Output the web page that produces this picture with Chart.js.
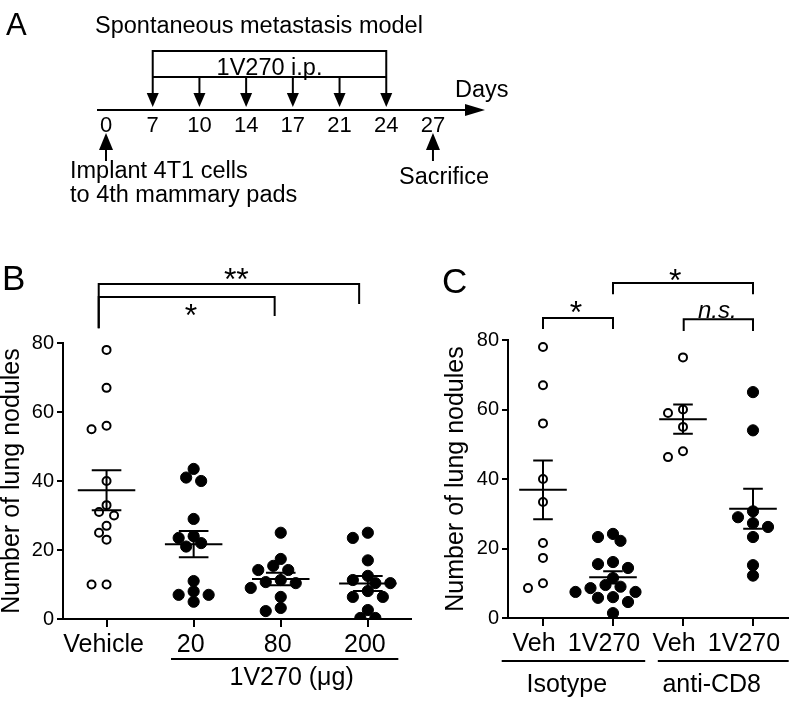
<!DOCTYPE html>
<html>
<head>
<meta charset="utf-8">
<script src="https://cdn.jsdelivr.net/npm/chart.js@4.4.0/dist/chart.umd.min.js"></script>
<style>
  body { margin: 0; background: #fff; width: 796px; height: 702px; position: relative; overflow: hidden; }
  canvas { position: absolute; }
</style>
</head>
<body>
<canvas id="chartA" width="796" height="230" style="left:0;top:0"></canvas>
<canvas id="chartB" width="418" height="472" style="left:0;top:230px"></canvas>
<canvas id="chartC" width="376" height="472" style="left:420px;top:230px"></canvas>
<script>
// panel A: schedule
var dayLabels = ['0', '7', '10', '14', '17', '21', '24', '27'];
var injectionDays = ['7', '10', '14', '17', '21', '24'];

// panel B: dose response
var doseLabels = ['Vehicle', '20', '80', '200'];
var vehicleB = [78, 67, 56, 55, 40, 33, 31, 30, 27, 25, 23, 10, 10];
var dose20 = [43.5, 41, 40, 29, 24, 23.5, 22, 21, 11, 8, 7, 7, 5];
var dose80 = [25, 17.4, 15.4, 14.2, 14.2, 11.3, 10.7, 10.4, 9, 6.4, 3.2, 2.3];
var dose200 = [25, 23.5, 17, 12.5, 11.3, 10.4, 10.4, 8.1, 6.4, 6.4, 2.6, 0.3, 0.3];

// panel C: CD8 depletion
var groupLabelsC = ['Veh', '1V270', 'Veh', '1V270'];
var isoVeh = [78, 67, 56, 40, 33.4, 21.6, 17.3, 10, 8.6];
var iso1V270 = [24.2, 23.3, 22.2, 16.1, 15.5, 14.4, 11.5, 9.5, 9, 8.6, 7.5, 7.5, 6, 5.8, 4.6, 1.4];
var cd8Veh = [75, 60, 59, 55, 48, 46.3];
var cd81V270 = [65, 54, 30.7, 29, 27.3, 26.2, 23.3, 15.2, 12.2];

var yTicks = [0, 20, 40, 60, 80];

var FONT = "'Liberation Sans', Arial, Helvetica, sans-serif";
Chart.defaults.font.family = FONT;
Chart.defaults.color = '#000';

function font(size, italic) {
    return (italic ? 'italic ' : '') + size + 'px ' + FONT;
}

function arrowHead(ctx, x, yTip, yBase, half) {
    ctx.beginPath();
    ctx.moveTo(x, yTip);
    ctx.lineTo(x - half, yBase);
    ctx.lineTo(x + half, yBase);
    ctx.closePath();
    ctx.fill();
}

// ---------- panel A ----------
var timelinePlugin = {
    id: 'timeline',
    afterDraw: function (chart) {
        var ctx = chart.ctx, xs = chart.scales.x, ys = chart.scales.y, a = chart.chartArea;
        var X = function (d) { return xs.getPixelForValue(dayLabels.indexOf(d)); };
        var Y = function (v) { return ys.getPixelForValue(v); };
        ctx.save();
        ctx.strokeStyle = '#000';
        ctx.fillStyle = '#000';
        ctx.lineWidth = 2;

        // time axis with arrow
        ctx.beginPath();
        ctx.moveTo(a.left, Y(0));
        ctx.lineTo(a.right - 15, Y(0));
        ctx.stroke();
        ctx.beginPath();
        ctx.moveTo(a.right, Y(0));
        ctx.lineTo(a.right - 20, Y(0) - 6);
        ctx.lineTo(a.right - 20, Y(0) + 6);
        ctx.closePath();
        ctx.fill();

        // treatment bracket
        var first = injectionDays[0], last = injectionDays[injectionDays.length - 1];
        ctx.beginPath();
        ctx.moveTo(X(first), Y(33));
        ctx.lineTo(X(first), Y(59));
        ctx.lineTo(X(last), Y(59));
        ctx.lineTo(X(last), Y(33));
        ctx.moveTo(X(first), Y(33));
        ctx.lineTo(X(last), Y(33));
        ctx.stroke();

        injectionDays.forEach(function (d) {
            ctx.beginPath();
            ctx.moveTo(X(d), Y(33));
            ctx.lineTo(X(d), Y(17));
            ctx.stroke();
            arrowHead(ctx, X(d), Y(3), Y(17), 6);
        });

        // implant / sacrifice arrows
        ['0', '27'].forEach(function (d) {
            ctx.beginPath();
            ctx.moveTo(X(d), Y(-39));
            ctx.lineTo(X(d), Y(-51));
            ctx.stroke();
            arrowHead(ctx, X(d), Y(-23), Y(-40), 7);
        });

        ctx.font = font(23.5);
        ctx.textBaseline = 'alphabetic';
        ctx.textAlign = 'left';
        ctx.fillText('Spontaneous metastasis model', a.left - 2, Y(77));
        ctx.fillText('Days', a.right - 30, Y(13));
        ctx.fillText('Implant 4T1 cells', X('0') - 36, Y(-68));
        ctx.fillText('to 4th mammary pads', X('0') - 36, Y(-92));
        ctx.fillText('Sacrifice', X('27') - 34, Y(-74));
        ctx.textAlign = 'center';
        ctx.fillText('1V270 i.p.', (X(first) + X(last)) / 2, Y(35));

        ctx.textAlign = 'left';
        ctx.font = font(31);
        ctx.fillText('A', 6, 35);
        ctx.restore();
    }
};

new Chart(document.getElementById('chartA'), {
    type: 'scatter',
    data: { datasets: [{ data: [] }] },
    options: {
        responsive: false,
        animation: false,
        layout: { padding: { left: 97, right: 311, top: 10, bottom: 0 } },
        plugins: { legend: { display: false }, tooltip: { enabled: false } },
        scales: {
            x: {
                type: 'linear', min: -0.193, max: 8.114,
                border: { display: false },
                grid: { display: false, drawTicks: false },
                afterBuildTicks: function (s) { s.ticks = dayLabels.map(function (d, i) { return { value: i }; }); },
                afterFit: function (s) { s.height = 120; },
                ticks: {
                    callback: function (v, i) { return dayLabels[i]; },
                    font: { size: 22 }, padding: 3, autoSkip: false, maxRotation: 0
                }
            },
            y: { display: false, min: 0, max: 100 }
        }
    },
    plugins: [timelinePlugin]
});

// ---------- panels B and C ----------
function meanSem(vals) {
    var n = vals.length;
    var m = vals.reduce(function (a, b) { return a + b; }, 0) / n;
    var ss = vals.reduce(function (a, b) { return a + (b - m) * (b - m); }, 0);
    return { mean: m, sem: Math.sqrt(ss / (n - 1) / n) };
}

// simple beeswarm: spread points that would overlap too much
function swarm(values, pxX, pxY, diam, step) {
    var order = values.map(function (v, i) { return i; })
        .sort(function (a, b) { return values[b] - values[a]; });
    var placed = [], offs = [];
    var cands = [0];
    for (var k = 1; k < 14; k++) { cands.push(-k * step, k * step); }
    order.forEach(function (i) {
        var yPx = values[i] * pxY;
        for (var c = 0; c < cands.length; c++) {
            var ok = placed.every(function (p) {
                var dx = p.x - cands[c], dy = p.y - yPx;
                return dx * dx + dy * dy >= diam * diam;
            });
            if (ok) {
                offs[i] = cands[c] / pxX;
                placed.push({ x: cands[c], y: yPx });
                break;
            }
        }
    });
    return offs;
}

function makeDatasets(groups, hollow) {
    return groups.map(function (vals, g) {
        var open = hollow.indexOf(g) >= 0;
        return {
            data: vals.map(function (v) { return { x: g, y: v }; }),
            showLine: false,
            pointRadius: open ? 4 : 5.6,
            pointHoverRadius: open ? 4 : 5.6,
            pointBorderWidth: open ? 2 : 1,
            pointBackgroundColor: open ? '#fff' : '#000',
            pointBorderColor: '#000'
        };
    });
}

function panelPlugin(cfg) {
    return {
        id: 'panel' + cfg.letter,
        afterDatasetsDraw: function (chart) {
            var ctx = chart.ctx, xs = chart.scales.x, ys = chart.scales.y, a = chart.chartArea;
            var X = function (u) { return xs.getPixelForValue(u); };
            var Y = function (v) { return ys.getPixelForValue(v); };
            ctx.save();
            ctx.strokeStyle = '#000';
            ctx.fillStyle = '#000';
            ctx.lineWidth = 2;

            // mean +/- SEM
            cfg.groups.forEach(function (vals, g) {
                var s = meanSem(vals);
                var lo = Y(s.mean - s.sem), hi = Y(s.mean + s.sem);
                ctx.beginPath();
                ctx.moveTo(X(g - cfg.meanHalf), Y(s.mean));
                ctx.lineTo(X(g + cfg.meanHalf), Y(s.mean));
                ctx.moveTo(X(g - cfg.semHalf), hi);
                ctx.lineTo(X(g + cfg.semHalf), hi);
                ctx.moveTo(X(g - cfg.semHalf), lo);
                ctx.lineTo(X(g + cfg.semHalf), lo);
                ctx.moveTo(X(g), hi);
                ctx.lineTo(X(g), lo);
                ctx.stroke();
            });

            // significance brackets
            cfg.brackets.forEach(function (b) {
                ctx.beginPath();
                ctx.moveTo(X(b.from), Y(b.leftEnd));
                ctx.lineTo(X(b.from), Y(b.level));
                ctx.lineTo(X(b.to), Y(b.level));
                ctx.lineTo(X(b.to), Y(b.rightEnd));
                ctx.stroke();
                ctx.font = b.italic ? font(24, true) : font(32);
                ctx.textAlign = 'center';
                ctx.textBaseline = 'alphabetic';
                var m = ctx.measureText(b.text);
                var cy = Y(b.ty) + (m.actualBoundingBoxAscent - m.actualBoundingBoxDescent) / 2;
                ctx.fillText(b.text, X(b.tx), cy);
            });

            // group lines under the axis
            ctx.font = font(25);
            ctx.textAlign = 'center';
            cfg.spans.forEach(function (sp) {
                ctx.beginPath();
                ctx.moveTo(X(sp.from), a.bottom + cfg.spanLine);
                ctx.lineTo(X(sp.to), a.bottom + cfg.spanLine);
                ctx.stroke();
                ctx.fillText(sp.text, X(sp.tx), a.bottom + cfg.spanText);
            });

            ctx.textAlign = 'left';
            ctx.font = font(35);
            ctx.fillText(cfg.letter, cfg.letterX, cfg.letterY);
            ctx.restore();
        }
    };
}

function buildPanel(id, cfg) {
    var chart = new Chart(document.getElementById(id), {
        type: 'scatter',
        data: { datasets: makeDatasets(cfg.groups, cfg.hollow) },
        options: {
            responsive: false,
            animation: false,
            layout: { padding: cfg.padding },
            plugins: { legend: { display: false }, tooltip: { enabled: false } },
            scales: {
                x: {
                    type: 'linear', min: -0.5, max: 3.5,
                    afterBuildTicks: function (s) { s.ticks = cfg.labels.map(function (l, i) { return { value: i }; }); },
                    afterFit: function (s) { s.height = cfg.xHeight; },
                    ticks: {
                        callback: function (v, i) { return cfg.labels[i]; },
                        font: { size: 25 }, padding: 3, labelOffset: cfg.labelOffset,
                        autoSkip: false, maxRotation: 0
                    },
                    grid: { drawOnChartArea: false, tickLength: 8, color: '#000', lineWidth: 2 },
                    border: { color: '#000', width: 2 }
                },
                y: {
                    min: 0, max: 80,
                    afterBuildTicks: function (s) { s.ticks = yTicks.map(function (v) { return { value: v }; }); },
                    afterFit: function (s) { s.width = cfg.yWidth; },
                    ticks: { font: { size: 20 }, padding: 3 },
                    grid: { drawOnChartArea: false, tickLength: 6, color: '#000', lineWidth: 2 },
                    border: { color: '#000', width: 2 },
                    title: {
                        display: true, text: 'Number of lung nodules',
                        font: { size: 25, lineHeight: 1 }, padding: 0
                    }
                }
            }
        },
        plugins: [panelPlugin(cfg)]
    });

    var xs = chart.scales.x, ys = chart.scales.y;
    var pxX = xs.getPixelForValue(1) - xs.getPixelForValue(0);
    var pxY = ys.getPixelForValue(0) - ys.getPixelForValue(1);
    cfg.groups.forEach(function (vals, g) {
        var offs = swarm(vals, pxX, pxY, 10, 7.5);
        chart.data.datasets[g].data.forEach(function (pt, i) { pt.x = g + offs[i]; });
    });
    chart.update('none');
    return chart;
}

buildPanel('chartB', {
    letter: 'B', letterX: 2, letterY: 60,
    groups: [vehicleB, dose20, dose80, dose200],
    hollow: [0],
    labels: doseLabels,
    padding: { top: 113, left: 0, right: 3, bottom: 0 },
    yWidth: 63, xHeight: 83, labelOffset: -3,
    meanHalf: 0.33, semHalf: 0.17,
    brackets: [
        { from: -0.09, to: 2.9, level: 97.1, leftEnd: 84.3, rightEnd: 91.3, text: '**', tx: 1.49, ty: 100.1 },
        { from: -0.09, to: 1.93, level: 93.3, leftEnd: 84.3, rightEnd: 87.8, text: '*', tx: 0.97, ty: 89.6 }
    ],
    spans: [{ from: 0.74, to: 3.35, text: '1V270 (\u03bcg)', tx: 2.125 }],
    spanLine: 40, spanText: 66
});

buildPanel('chartC', {
    letter: 'C', letterX: 22, letterY: 63,
    groups: [isoVeh, iso1V270, cd8Veh, cd81V270],
    hollow: [0, 2],
    labels: groupLabelsC,
    padding: { top: 110, left: 23.5, right: 8, bottom: 0 },
    yWidth: 64.5, xHeight: 84, labelOffset: -9,
    meanHalf: 0.34, semHalf: 0.14,
    brackets: [
        { from: 0, to: 1, level: 86.3, leftEnd: 83.2, rightEnd: 83.2, text: '*', tx: 0.47, ty: 89.4 },
        { from: 1, to: 3, level: 96.4, leftEnd: 93.2, rightEnd: 93.2, text: '*', tx: 1.89, ty: 98.6 },
        { from: 2.01, to: 3, level: 86, leftEnd: 82.6, rightEnd: 82.6, text: 'n.s.', italic: true, tx: 2.49, ty: 88.2 }
    ],
    spans: [
        { from: -0.59, to: 1.46, text: 'Isotype', tx: 0.34 },
        { from: 1.64, to: 3.51, text: 'anti-CD8', tx: 2.41 }
    ],
    spanLine: 43, spanText: 74
});
</script>
</body>
</html>
